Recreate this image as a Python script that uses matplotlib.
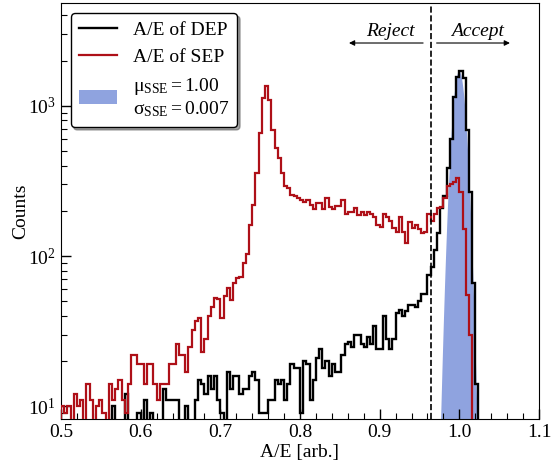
import numpy as np
import matplotlib
matplotlib.use('Agg')
import matplotlib.pyplot as plt
from matplotlib.ticker import MultipleLocator

plt.rcParams['font.family'] = ['Liberation Serif', 'DejaVu Serif']
plt.rcParams['mathtext.fontset'] = 'custom'
plt.rcParams['mathtext.rm'] = 'Liberation Serif'
plt.rcParams['mathtext.it'] = 'Liberation Serif:italic'

# binning: 0.004 wide bins starting at A/E = 0.5
bin_start = 0.5
bin_width = 0.004

# counts per bin (DEP = black, SEP = red)
dep_counts = [4, 3, 5, 6, 4, 3, 5, 6, 4, 5, 6, 4, 5, 7, 5, 6,
              10, 6, 5, 7, 12, 6, 5, 7, 9, 6, 11, 7, 9, 6, 7, 6,
              13, 11, 11, 11, 11, 6, 7, 10, 6, 7, 11, 15, 14, 12, 16, 13,
              16, 11, 9, 6, 17, 13, 16, 16, 12, 13, 13, 16, 17, 15, 9, 9,
              9, 11, 11, 15, 14, 15, 11, 14, 19, 18, 18, 9, 20, 19, 11, 15,
              21, 24, 18, 20, 16, 19, 17, 17, 22, 26, 27, 25, 30, 30, 26, 25,
              29, 26, 34, 24, 24, 40, 28, 24, 28, 42, 44, 40, 43, 47, 47, 46,
              50, 56, 56, 75, 85, 110, 143, 210, 250, 385, 600, 1150, 1560, 1700,
              1530, 690, 268, 66, 14, 0, 0]

sep_counts = [10, 9, 10, 7, 12, 10, 11, 7, 14, 11, 6, 10, 11, 9, 7, 14,
              11, 13, 15, 11, 9, 14, 22, 22, 19, 19, 14, 19, 19, 14, 11, 14,
              14, 14, 19, 19, 26, 22, 22, 17, 25, 32, 37, 39, 23, 28, 40, 46,
              53, 52, 39, 54, 61, 51, 66, 71, 73, 90, 104, 161, 219, 356, 658, 1125,
              1360, 1100, 692, 522, 448, 356, 293, 283, 255, 251, 243, 236, 230, 237, 218, 207,
              224, 224, 207, 242, 213, 207, 215, 215, 235, 192, 197, 197, 210, 188, 197, 188,
              197, 192, 183, 161, 157, 192, 183, 172, 153, 145, 183, 145, 122, 169, 153, 160,
              152, 142, 145, 192, 172, 190, 208, 211, 242, 293, 302, 313, 330, 268, 152, 55,
              30, 0, 0]

# single-site event band
mu_sse = 1.00
sigma_sse = 0.007
amp_sse = 1700

cut_value = 0.964

dep_edges = bin_start + bin_width * np.arange(len(dep_counts) + 1)
sep_edges = bin_start + bin_width * np.arange(len(sep_counts) + 1)

fig = plt.figure(figsize=(5.51, 4.65), dpi=100)
ax = fig.add_axes([61 / 551, 1 - 419.3 / 465, 478 / 551, 415.8 / 465])

xg = np.linspace(0.95, 1.05, 500)
yg = amp_sse * np.exp(-(xg - mu_sse) ** 2 / (2 * sigma_sse ** 2))
ax.fill_between(xg, yg, 0, color='#8fa3df', lw=0,
                label=r'$\mathrm{μ_{SSE}=1.00}$' + '\n' + r'$\mathrm{σ_{SSE}=0.007}$',
                zorder=1)

ax.stairs(dep_counts, dep_edges, color='k', lw=1.7, label='A/E of DEP', zorder=3)
ax.stairs(sep_counts, sep_edges, color='#ae1018', lw=1.6, label='A/E of SEP', zorder=3)

ax.axvline(cut_value, color='k', ls='--', lw=1.2, zorder=4)

# reject / accept arrows
ax.annotate('', xy=(0.858, 2620), xytext=(0.958, 2620),
            arrowprops=dict(arrowstyle='-|>', color='k', lw=0.8, mutation_scale=8))
ax.annotate('', xy=(1.067, 2620), xytext=(0.968, 2620),
            arrowprops=dict(arrowstyle='-|>', color='k', lw=0.8, mutation_scale=8))
ax.text(0.914, 2900, 'Reject', style='italic', fontsize=14, ha='center', va='baseline')
ax.text(1.023, 2900, 'Accept', style='italic', fontsize=14, ha='center', va='baseline')

ax.set_yscale('log')
ax.set_xlim(0.5, 1.1)
ax.set_ylim(8.2, 4800)
ax.xaxis.set_major_locator(MultipleLocator(0.1))
ax.xaxis.set_minor_locator(MultipleLocator(0.02))
ax.tick_params(which='both', direction='in', labelsize=14)
ax.tick_params(which='major', length=7, width=1)
ax.tick_params(which='minor', length=4, width=0.8)

ax.set_xlabel('A/E [arb.]', fontsize=14, labelpad=2)
ax.set_ylabel('Counts', fontsize=14, labelpad=-1)

h, l = ax.get_legend_handles_labels()
order = [1, 2, 0]
leg = ax.legend([h[i] for i in order], [l[i] for i in order], loc='upper left',
                fontsize=14, shadow=True, fancybox=True, framealpha=1,
                edgecolor='k', handlelength=2.0)
leg.get_frame().set_linewidth(1.0)

fig.savefig('out.png', dpi=100)
